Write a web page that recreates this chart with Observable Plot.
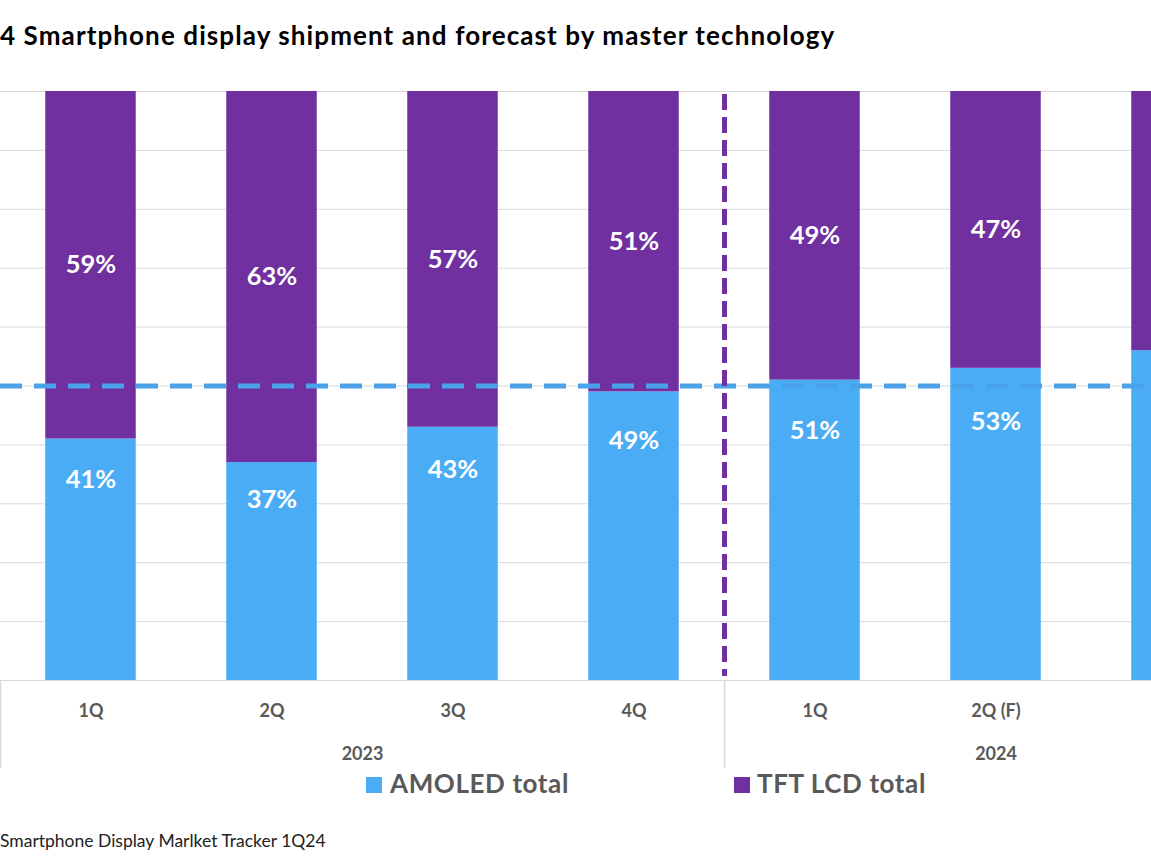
<!DOCTYPE html>
<html><head><meta charset="utf-8">
<script src="https://cdn.jsdelivr.net/npm/d3@7"></script>
<script src="https://cdn.jsdelivr.net/npm/@observablehq/plot@0.6"></script>
<style>
html,body{margin:0;padding:0;background:#fff}
body{width:1151px;height:863px;overflow:hidden;position:relative;font-family:Lato,"Open Sans",sans-serif}
#title{position:absolute;left:0;top:20px;font-size:26px;line-height:30px;font-weight:700;color:#000;white-space:nowrap;letter-spacing:1.1px}
#chart{position:absolute;left:0;top:70px}
.lg{position:absolute;top:767px;font-size:26px;line-height:32px;font-weight:700;color:#595959;white-space:nowrap;letter-spacing:0.6px}
.sw{position:absolute;width:16px;height:16px}
#caption{position:absolute;left:0;top:831px;font-size:17.5px;line-height:20px;color:#222;white-space:nowrap}
</style></head>
<body>
<div id="title"></div>
<div id="chart"></div>
<div id="legend"></div>
<div id="caption"></div>
<script>
const titleText = "4 Smartphone display shipment and forecast by master technology";
const captionText = "Smartphone Display Marlket Tracker 1Q24";
const quarters = ["1Q", "2Q", "3Q", "4Q", "1Q", "2Q (F)", "3Q (F)"];
const years = ["2023", "2023", "2023", "2023", "2024", "2024", "2024"];
const seriesNames = ["AMOLED total", "TFT LCD total"];
const amoled = [41, 37, 43, 49, 51, 53, 56];
const tftLcd = [59, 63, 57, 51, 49, 47, 44];
const colors = ["#4BACF6", "#7030A0"];

document.getElementById("title").textContent = titleText;
document.getElementById("caption").textContent = captionText;

// legend
const legend = document.getElementById("legend");
const legendPos = [{sq: 366, tx: 390, top: 777}, {sq: 734, tx: 757, top: 777}];
seriesNames.forEach((s, i) => {
  const sw = document.createElement("div");
  sw.className = "sw";
  sw.style.left = legendPos[i].sq + "px";
  sw.style.top = legendPos[i].top + "px";
  sw.style.background = colors[i];
  legend.appendChild(sw);
  const t = document.createElement("div");
  t.className = "lg";
  t.style.left = legendPos[i].tx + "px";
  t.textContent = s;
  legend.appendChild(t);
});

// table
const table = [];
quarters.forEach((q, i) => {
  table.push({idx: i, series: seriesNames[0], value: amoled[i]});
  table.push({idx: i, series: seriesNames[1], value: tftLcd[i]});
});
const idxs = quarters.map((q, i) => i);

// year groups
const yearGroups = [];
years.forEach((y, i) => {
  let g = yearGroups.find(d => d.year === y);
  if (!g) { g = {year: y, start: i, end: i + 1}; yearGroups.push(g); }
  else g.end = i + 1;
});
yearGroups.forEach(g => g.center = (g.start + g.end) / 2);
const boundaries = yearGroups.map(g => g.start);
const forecastSplit = yearGroups.slice(1).map(g => g.start);

const W = 1151, step = 181;
const plot = Plot.plot({
  width: W,
  height: 700,
  marginTop: 21,
  marginBottom: 90,
  marginLeft: 0,
  marginRight: 0,
  style: {fontFamily: "Lato, 'Open Sans', sans-serif", background: "transparent"},
  x: {type: "linear", domain: [0, W / step], range: [0, W], axis: null},
  y: {domain: [0, 100], axis: null},
  color: {domain: seriesNames, range: colors},
  marks: [
    Plot.ruleY(d3.range(0, 101, 10), {stroke: "#d9d9d9", strokeWidth: 1}),
    Plot.rectY(table, {x: "idx", interval: 1, y: "value", fill: "series", insetLeft: 45.25, insetRight: 45.25}),
    Plot.ruleY([50], {stroke: "#4AA3EA", strokeWidth: 5, strokeDasharray: "22,12"}),
    Plot.ruleX(forecastSplit, {stroke: "#7030A0", strokeWidth: 5, strokeDasharray: "16,7", insetTop: 3, insetBottom: 4}),
    Plot.ruleX(boundaries, {y1: 0, y2: 0, insetBottom: -88, stroke: "#d9d9d9", strokeWidth: 1.5}),
    Plot.text(idxs, {x: i => i + 0.5, y: i => amoled[i] + tftLcd[i] / 2, text: i => tftLcd[i] + "%", fill: "white", fontSize: 25.5, fontWeight: 700}),
    Plot.text(idxs, {x: i => i + 0.5, y: i => amoled[i] * 0.83, text: i => amoled[i] + "%", fill: "white", fontSize: 25.5, fontWeight: 700}),
    Plot.text(idxs, {x: i => i + 0.5, frameAnchor: "bottom", dy: 36, text: i => quarters[i], fill: "#595959", fontSize: 18, fontWeight: 700}),
    Plot.text(yearGroups, {x: "center", frameAnchor: "bottom", dy: 79, text: "year", fill: "#595959", fontSize: 18, fontWeight: 700})
  ]
});
document.getElementById("chart").appendChild(plot);
</script>
</body></html>
